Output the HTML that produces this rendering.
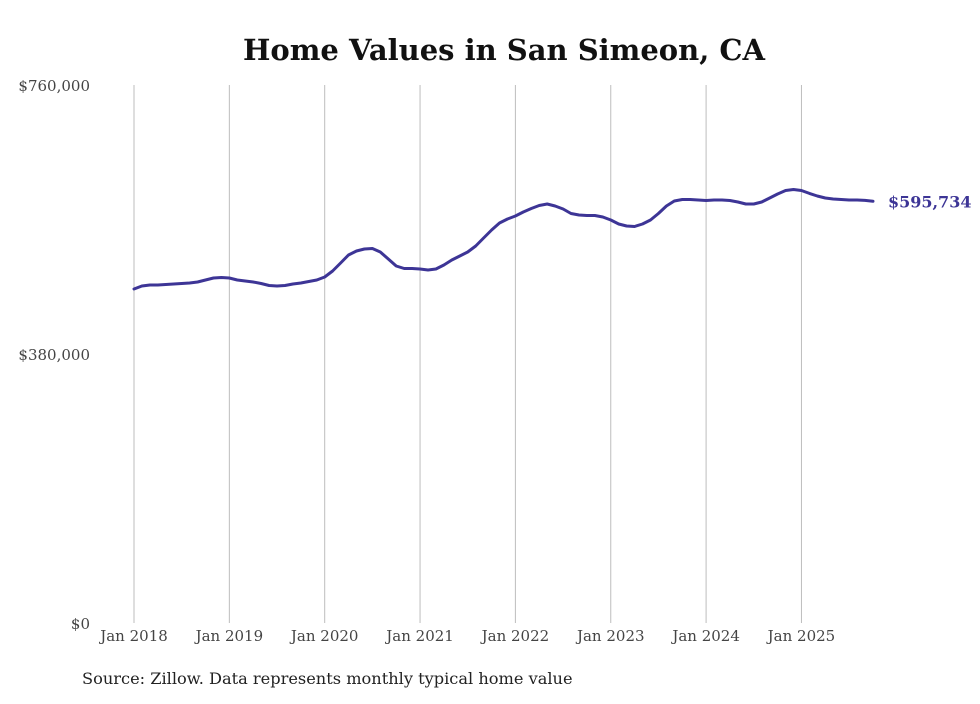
<!DOCTYPE html>
<html><head><meta charset="utf-8"><style>
body{margin:0;background:#fff;width:980px;height:699px;overflow:hidden}
svg text{font-family:"DejaVu Serif","Liberation Serif",serif}
</style></head><body>
<svg id="chart" width="980" height="699" xmlns="http://www.w3.org/2000/svg">
<text x="504" y="60" text-anchor="middle" font-size="29" font-weight="bold" fill="#111">Home Values in San Simeon, CA</text>
<g id="grid"></g><g id="yaxis"></g><g id="xaxis"></g><g id="series"></g>
<text x="82" y="684" font-size="16.2" fill="#222">Source: Zillow. Data represents monthly typical home value</text>
</svg>
<script>
const yTicks=[0,380000,760000];
const yTickLabels=["$0","$380,000","$760,000"];
const xYears=[2018,2019,2020,2021,2022,2023,2024,2025];
const xTickLabels=["Jan 2018","Jan 2019","Jan 2020","Jan 2021","Jan 2022","Jan 2023","Jan 2024","Jan 2025"];
const values=[471.8,476.0,477.5,477.5,478.2,478.9,479.6,480.3,481.7,484.5,487.3,488.0,
487.3,484.5,483.1,481.7,479.6,476.8,476.0,476.8,478.9,480.3,482.4,484.5,
488.8,497.2,508.5,519.8,525.5,528.3,529.0,524.1,514.2,504.3,500.8,500.8,
500.1,498.7,500.1,505.7,512.8,518.4,524.1,532.6,543.9,555.1,565.0,570.7,
574.9,580.6,585.5,589.8,591.9,589.1,584.8,578.5,576.3,575.6,575.6,573.5,
569.3,563.6,560.8,560.1,563.6,569.3,578.5,589.1,596.1,598.2,598.2,597.5,
596.8,597.5,597.5,596.8,594.7,591.9,591.9,594.7,600.4,606.0,610.9,612.4,
610.9,606.8,603.2,600.4,598.9,598.2,597.5,597.5,597.0,595.734].map(v=>v*1000);
const lastLabel="$595,734";
const NS="http://www.w3.org/2000/svg";
const x0=134,pxPerMonth=95.35/12,yBase=623,yTop=85,yMax=760000;
const X=m=>x0+m*pxPerMonth;
const Y=v=>yBase-(v/yMax)*(yBase-yTop);
function mk(tag,attrs,parent){const e=document.createElementNS(NS,tag);for(const k in attrs)e.setAttribute(k,attrs[k]);document.getElementById(parent).appendChild(e);return e;}
xYears.forEach((yr,i)=>{
  const x=X((yr-2018)*12);
  const l=mk('line',{x1:x,x2:x,y1:yTop,y2:yBase,stroke:'#bdbdbd','stroke-width':1},'grid');
  
  
  const t=mk('text',{x:x,y:641,'text-anchor':'middle','font-size':15,fill:'#444'},'xaxis');
  t.textContent=xTickLabels[i];
  
  
});
yTicks.forEach((v,i)=>{
  const t=mk('text',{x:90,y:Y(v)+6,'text-anchor':'end','font-size':15,fill:'#444'},'yaxis');
  t.textContent=yTickLabels[i];
  
  
});
const d=values.map((v,i)=>(i?'L':'M')+X(i).toFixed(1)+','+Y(v).toFixed(1)).join(' ');
const p=mk('path',{d:d,fill:'none',stroke:'#3d3596','stroke-width':3,'stroke-linejoin':'round','stroke-linecap':'round'},'series');


const li=values.length-1;
const lt=mk('text',{x:X(li)+15,y:Y(values[li])+6,'font-size':16,'font-weight':'bold',fill:'#3d3596'},'series');
lt.textContent=lastLabel;


</script>
</body></html>
